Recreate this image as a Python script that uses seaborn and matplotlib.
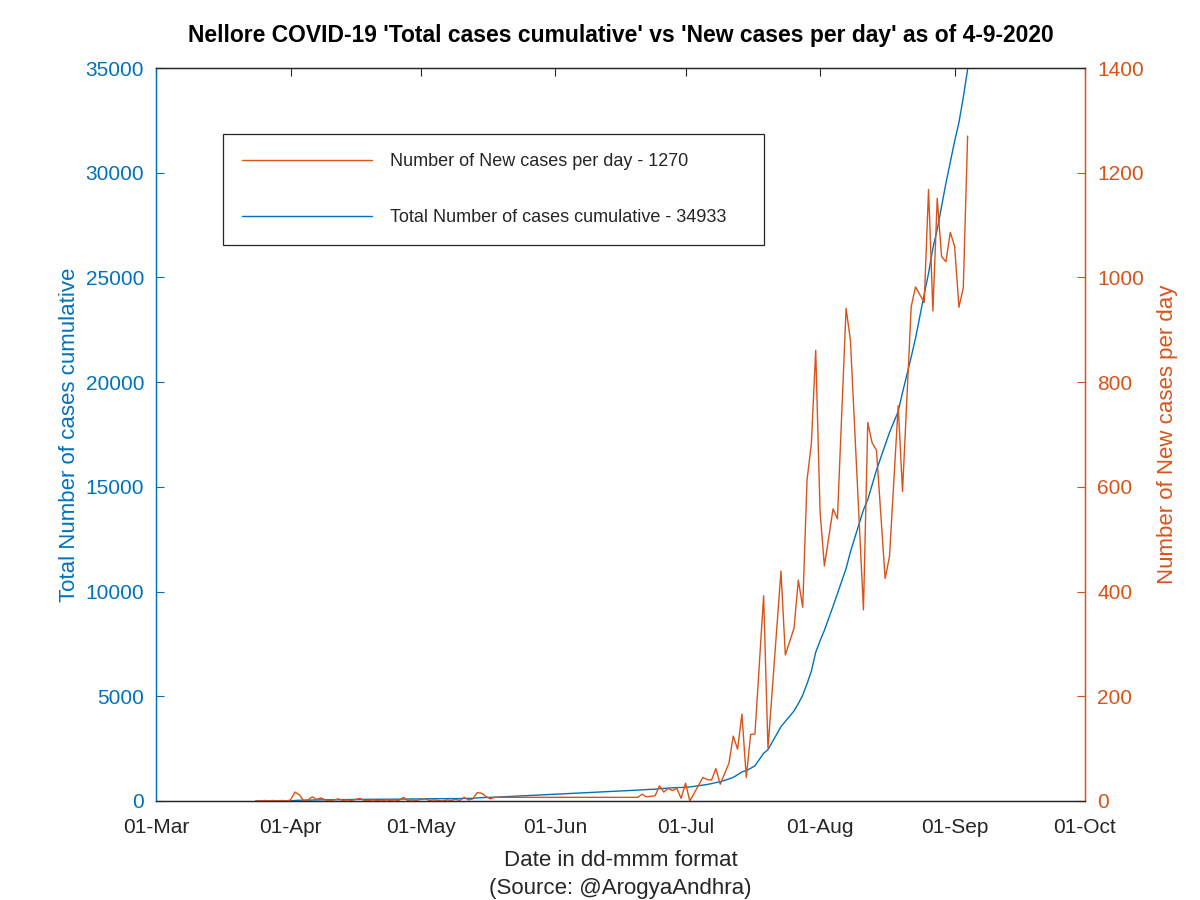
import pandas as pd
import seaborn as sns
import matplotlib.pyplot as plt
import matplotlib.dates as mdates
from matplotlib.lines import Line2D

# Dates (2020) as MM-DD, daily with reporting gaps
dates = [
    '03-24', '03-25', '03-26', '03-27', '03-28', '03-29', '03-30', '03-31',
    '04-01', '04-02', '04-03', '04-04', '04-05', '04-06', '04-07', '04-08',
    '04-09', '04-10', '04-11', '04-12', '04-13', '04-14', '04-15', '04-16',
    '04-17', '04-18', '04-19', '04-20', '04-21', '04-22', '04-23', '04-24',
    '04-25', '04-26', '04-27', '04-28', '04-29', '04-30', '05-01', '05-02',
    '05-03', '05-04', '05-05', '05-06', '05-07', '05-08', '05-09', '05-10',
    '05-11', '05-12', '05-13', '05-14', '05-15', '05-16', '05-17', '05-18',
    '06-20', '06-21', '06-22', '06-23', '06-24', '06-25', '06-26', '06-27',
    '06-28', '06-29', '06-30', '07-01', '07-02',
    '07-05', '07-06', '07-07', '07-08', '07-09',
    '07-11', '07-12', '07-13', '07-14', '07-15', '07-16', '07-17',
    '07-19', '07-20', '07-23', '07-24',
    '07-26', '07-27', '07-28', '07-29', '07-30', '07-31', '08-01', '08-02',
    '08-04', '08-05', '08-07', '08-08',
    '08-11', '08-12', '08-13', '08-14', '08-16', '08-17',
    '08-19', '08-20', '08-22', '08-23',
    '08-25', '08-26', '08-27', '08-28', '08-29', '08-30', '08-31',
    '09-01', '09-02', '09-03', '09-04',
]

new_cases = [
    0, 0, 1, 0, 1, 0, 1, 0,
    2, 17, 12, 1, 2, 8, 3, 6,
    2, 1, 2, 4, 1, 2, 1, 3,
    5, 1, 1, 2, 1, 0, 2, 1,
    0, 1, 7, 1, 2, 1, 3, 4,
    1, 2, 1, 0, 2, 1, 3, 1,
    7, 2, 4, 16, 15, 9, 4, 7,
    7, 13, 8, 9, 10, 29, 17, 24,
    20, 24, 5, 34, 0,
    45, 41, 40, 62, 32,
    72, 124, 99, 166, 45, 127, 128,
    392, 101, 439, 279,
    330, 422, 370, 613, 683, 861, 553, 449,
    558, 539, 941, 880,
    365, 723, 684, 670, 425, 467,
    755, 591, 944, 982,
    952, 1168, 936, 1151, 1040, 1030, 1086,
    1060, 943, 980, 1270,
]

total_cases = [
    3, 3, 4, 4, 5, 5, 6, 6,
    8, 25, 37, 38, 40, 48, 51, 57,
    59, 60, 62, 66, 67, 69, 70, 73,
    78, 79, 80, 82, 83, 83, 85, 86,
    86, 87, 94, 95, 97, 98, 101, 105,
    106, 108, 109, 109, 111, 112, 115, 116,
    123, 125, 129, 145, 160, 169, 173, 180,
    520, 535, 545, 555, 565, 585, 600, 615,
    630, 640, 645, 655, 670,
    760, 790, 830, 880, 920,
    1050, 1130, 1250, 1390, 1450, 1560, 1680,
    2280, 2450, 3550, 3800,
    4300, 4650, 5050, 5600, 6200, 7100, 7650, 8150,
    9300, 9900, 11100, 11900,
    13900, 14400, 15100, 15800, 17000, 17600,
    18600, 19500, 21200, 22100,
    24200, 25200, 26400, 27300, 28400, 29500, 30500,
    31500, 32400, 33600, 34933,
]

df = pd.DataFrame({
    'date': pd.to_datetime(['2020-' + d for d in dates]),
    'new': new_cases,
    'total': total_cases,
})

blue = '#0072BD'
orange = '#D95319'
dark = '#262626'

sns.set_style('white')
plt.rcParams['font.family'] = ['Liberation Sans', 'DejaVu Sans']

fig = plt.figure(figsize=(12, 9), dpi=100)
ax = fig.add_axes([0.13, 0.11, 0.774, 0.8144])
ax2 = ax.twinx()

sns.lineplot(data=df, x='date', y='total', ax=ax, color=blue, lw=1)
sns.lineplot(data=df, x='date', y='new', ax=ax2, color=orange, lw=1)

ax.set_xlim(pd.Timestamp('2020-03-01'), pd.Timestamp('2020-10-01'))
ax.set_ylim(0, 35000)
ax2.set_ylim(0, 1400)
ax.set_yticks(range(0, 35001, 5000))
ax2.set_yticks(range(0, 1401, 200))
ax.xaxis.set_major_locator(mdates.MonthLocator())
ax.xaxis.set_major_formatter(mdates.DateFormatter('%d-%b'))

ax.set_title("Nellore COVID-19 'Total cases cumulative' vs 'New cases per day' as of 4-9-2020",
             fontsize=16.5, fontweight='bold', pad=19, color='black')
ax.set_xlabel('Date in dd-mmm format\n(Source: @ArogyaAndhra)', fontsize=16, color=dark,
              labelpad=9, linespacing=1.45)
ax.set_ylabel('Total Number of cases cumulative', fontsize=16, color=blue, labelpad=4)
ax2.set_ylabel('Number of New cases per day', fontsize=16, color=orange, labelpad=9.5)

for a in (ax, ax2):
    for s in a.spines.values():
        s.set_linewidth(0.9)
        s.set_color(dark)
ax.spines['left'].set_color(blue)
ax2.spines['left'].set_color(blue)
ax.spines['right'].set_color(orange)
ax2.spines['right'].set_color(orange)

ax.tick_params(axis='x', direction='in', length=6, top=True, colors=dark, labelsize=15, pad=12.5)
ax.tick_params(axis='y', direction='in', length=6, colors=blue, labelsize=15, pad=8.5)
ax2.tick_params(axis='y', direction='in', length=6, colors=orange, labelsize=15, pad=9)

handles = [Line2D([], [], color=orange, lw=1), Line2D([], [], color=blue, lw=1)]
labels = ['Number of New cases per day - %d' % new_cases[-1],
          'Total Number of cases cumulative - %d' % total_cases[-1]]
leg = ax2.legend(handles, labels, loc='upper left', mode='expand',
                 bbox_to_anchor=(0.072, 0.91, 0.583, 0.0), borderaxespad=0,
                 fontsize=13, handlelength=7.2, handletextpad=1.0, labelspacing=2.17,
                 borderpad=1.05, fancybox=False, framealpha=1, edgecolor=dark)
leg.get_frame().set_linewidth(0.9)

fig.savefig('out.png', dpi=100)
